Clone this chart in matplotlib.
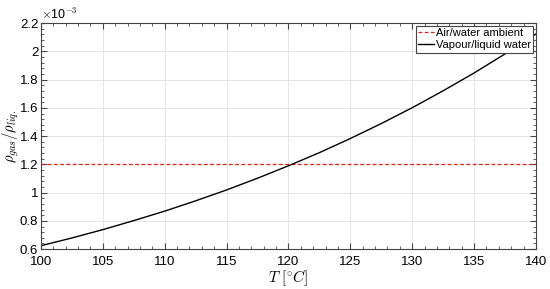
import matplotlib.pyplot as plt
from matplotlib.ticker import AutoMinorLocator, MultipleLocator, FuncFormatter

plt.rcParams['font.family'] = ['Liberation Sans', 'DejaVu Sans']
plt.rcParams['mathtext.fontset'] = 'cm'

# saturation temperature (deg C) and vapour/liquid density ratio (x1e-3)
temps = [100, 102.5, 105, 107.5, 110, 112.5, 115, 117.5, 120,
         122.5, 125, 127.5, 130, 132.5, 135, 137.5, 140]
ratio = [0.624, 0.679, 0.738, 0.802, 0.869, 0.942, 1.019, 1.102, 1.190,
         1.283, 1.383, 1.489, 1.601, 1.721, 1.847, 1.982, 2.123]
ambient_ratio = 1.2  # x1e-3
x_range = [100, 140]

fig = plt.figure(figsize=(5.5, 2.89), dpi=100)
ax = fig.add_axes([0.0745, 0.138, 0.9, 0.782])

ax.plot(x_range, [ambient_ratio] * 2, color='#e0201b', ls='--', dashes=(3, 2),
        lw=0.9, label='Air/water ambient')
ax.plot(temps, ratio, 'k-', lw=1.0, label='Vapour/liquid water')

ax.set_xlim(100, 140)
ax.set_ylim(0.6, 2.2)
ax.xaxis.set_major_locator(MultipleLocator(5))
ax.xaxis.set_minor_locator(AutoMinorLocator(5))
ax.yaxis.set_major_locator(MultipleLocator(0.2))
ax.yaxis.set_minor_locator(AutoMinorLocator(5))
ax.yaxis.set_major_formatter(FuncFormatter(lambda v, p: f'{v:g}'))
ax.text(0.0, 1.005, r'$\times$10$^{-3}$', transform=ax.transAxes,
        fontsize=9, va='bottom', ha='left')

ax.tick_params(which='both', direction='in', top=True, right=True,
               labelsize=9.5, color='#444444')
ax.tick_params(axis='x', pad=5)
ax.tick_params(axis='y', pad=2)
ax.tick_params(which='major', length=4)
ax.tick_params(which='minor', length=2)
for s in ax.spines.values():
    s.set_color('#444444')
    s.set_linewidth(0.8)

ax.grid(True, color='#e4e4e4', lw=0.7)
ax.set_axisbelow(True)

ax.set_xlabel(r'$T\ [^{\circ}C]$', fontsize=11, labelpad=0)
ax.set_ylabel(r'$\rho_{gas}/\rho_{liq.}$', fontsize=10.5)
ax.yaxis.set_label_coords(-0.041, 0.5)

leg = ax.legend(loc='upper right', fontsize=8, fancybox=False,
                edgecolor='#444444', framealpha=1, borderpad=0.2,
                handlelength=1.4, handletextpad=0.2, borderaxespad=0.25,
                labelspacing=0.2)
leg.get_frame().set_linewidth(0.8)

fig.savefig('out.png', dpi=100)
